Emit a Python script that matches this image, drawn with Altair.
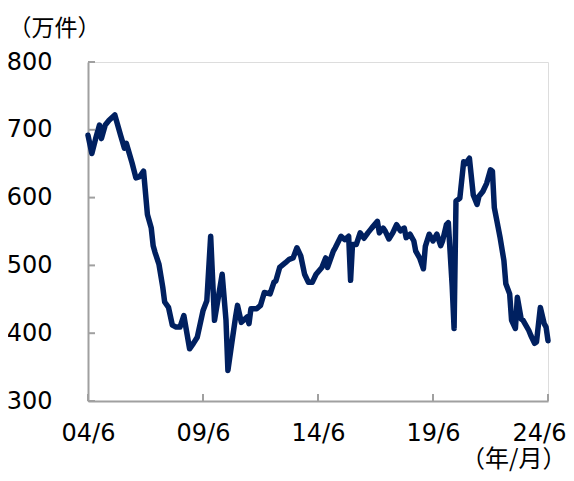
import altair as alt
import pandas as pd

# Monthly readings (YYYY-MM) and values in 万件
dates = [
    "2004-06", "2004-08", "2004-10", "2004-12", "2005-01", "2005-03", "2005-05", "2005-08",
    "2005-11", "2006-01", "2006-02", "2006-05", "2006-07", "2006-09", "2006-11", "2007-01",
    "2007-03", "2007-04", "2007-05", "2007-07", "2007-09", "2007-10", "2007-12", "2008-02",
    "2008-04", "2008-06", "2008-08", "2008-11", "2009-01", "2009-03", "2009-06", "2009-08",
    "2009-10", "2009-12", "2010-02", "2010-04", "2010-06", "2010-07", "2010-09", "2010-11",
    "2010-12", "2011-02", "2011-05", "2011-06", "2011-07", "2011-10", "2011-12", "2012-02",
    "2012-05", "2012-07", "2012-08", "2012-10", "2013-01", "2013-03", "2013-05", "2013-07",
    "2013-09", "2013-11", "2014-01", "2014-03", "2014-05", "2014-08", "2014-10", "2014-11",
    "2015-02", "2015-03", "2015-06", "2015-08", "2015-10", "2015-11", "2015-12", "2016-02",
    "2016-04", "2016-06", "2016-08", "2016-10", "2017-01", "2017-02", "2017-04", "2017-05",
    "2017-07", "2017-09", "2017-11", "2018-01", "2018-03", "2018-04", "2018-06", "2018-08",
    "2018-09", "2018-11", "2019-01", "2019-02", "2019-04", "2019-06", "2019-08", "2019-10",
    "2019-11", "2020-01", "2020-02", "2020-04", "2020-05", "2020-06", "2020-08", "2020-10",
    "2020-11", "2021-01", "2021-03", "2021-05", "2021-06", "2021-08", "2021-10", "2021-12",
    "2022-01", "2022-02", "2022-04", "2022-05", "2022-07", "2022-08", "2022-10", "2022-11",
    "2023-01", "2023-02", "2023-04", "2023-05", "2023-08", "2023-09", "2023-11", "2023-12",
    "2024-02", "2024-04", "2024-05", "2024-06",
]
values = [
    692, 665, 687, 707, 687, 707, 714, 722,
    692, 673, 680, 651, 629, 631, 639, 575,
    555, 529, 519, 502, 468, 446, 438, 412,
    409, 409, 426, 377, 385, 394, 433, 448,
    543, 419, 453, 487, 419, 345, 385, 424,
    441, 416, 424, 414, 436, 436, 441, 460,
    458, 475, 477, 497, 504, 509, 511, 526,
    514, 487, 475, 475, 487, 497, 511, 497,
    521, 526, 543, 538, 543, 478, 531, 531,
    548, 540, 548, 555, 565, 548, 555, 551,
    539, 548, 560, 551, 555, 541, 546, 536,
    521, 511, 495, 528, 546, 536, 546, 529,
    536, 560, 563, 470, 407, 595, 599, 653,
    650, 658, 604, 590, 602, 609, 621, 641,
    639, 585, 556, 541, 507, 473, 458, 419,
    407, 453, 421, 419, 404, 397, 385, 387,
    438, 414, 409, 389,
]

x_tick_pos = [0, 60, 120, 180, 240]
x_tick_labels = ["04/6", "09/6", "14/6", "19/6", "24/6"]
y_ticks = [300, 400, 500, 600, 700, 800]

df = pd.DataFrame({"date": dates, "value": values})
dt = pd.to_datetime(df["date"] + "-01")
df["m"] = (dt.dt.year - 2004) * 12 + (dt.dt.month - 6)

NAVY = "#002060"
GRAY = "#A0A0A0"
W, H = 460, 339
PAD_L, PAD_T, PAD_R, PAD_B = 80, 54, 18, 72

label_expr = "[" + ",".join(f"'{s}'" for s in x_tick_labels) + "][round(datum.value/60)]"

x_enc = alt.X(
    "m:Q",
    scale=alt.Scale(domain=[0, 240], nice=False, zero=False),
    axis=alt.Axis(
        values=x_tick_pos,
        labelExpr=label_expr,
        title="（年/月）",
        titleX=W + PAD_R,
        titleY=PAD_B - 7,
        titleAlign="right",
        titleBaseline="alphabetic",
        titleFont="Noto Sans CJK JP",
        titleFontSize=24,
        titleFontWeight="normal",
        titleColor="#000000",
        labelFont="DejaVu Sans",
        labelFontSize=24,
        labelColor="#000000",
        labelPadding=20,
        labelOffset={"condition": {"test": "datum.value == 240", "value": -9}, "value": 0},
        ticks=False,
        tickSize=0,
        grid=False,
        domainColor=GRAY,
        domainWidth=2,
        labelFlush=False,
        labelOverlap=False,
    ),
)
y_enc = alt.Y(
    "value:Q",
    scale=alt.Scale(domain=[300, 800], nice=False, zero=False),
    axis=alt.Axis(
        values=y_ticks,
        title="（万件）",
        titleAngle=0,
        titleX=-PAD_L,
        titleY=-27,
        titleAlign="left",
        titleBaseline="alphabetic",
        titleFont="Noto Sans CJK JP",
        titleFontSize=23,
        titleFontWeight="normal",
        titleColor="#000000",
        labelFont="DejaVu Sans",
        labelFontSize=24,
        labelColor="#000000",
        labelPadding=36,
        ticks=False,
        tickSize=0,
        grid=False,
        domainColor=GRAY,
        domainWidth=2,
        labelFlush=False,
        labelOverlap=False,
    ),
)

line = alt.Chart(df).mark_line(
    color=NAVY, strokeWidth=5.5, strokeJoin="round", strokeCap="round"
).encode(x=x_enc, y=y_enc)

ytick_df = pd.DataFrame({"value": y_ticks})
yticks = alt.Chart(ytick_df).mark_rule(color=GRAY, strokeWidth=2).encode(
    y=alt.Y("value:Q"), x=alt.value(0), x2=alt.value(7)
)
xtick_df = pd.DataFrame({"m": x_tick_pos})
xticks = alt.Chart(xtick_df).mark_rule(color=GRAY, strokeWidth=2).encode(
    x=alt.X("m:Q"), y=alt.value(H), y2=alt.value(H - 7)
)

chart = (
    alt.layer(line, yticks, xticks)
    .properties(
        width=W,
        height=H,
        autosize="none",
        padding={"left": PAD_L, "top": PAD_T, "right": PAD_R, "bottom": PAD_B},
    )
    .configure_view(stroke=None)
    .configure(background="white")
)

chart.save("out.html", embed_options={"renderer": "svg", "actions": False})
